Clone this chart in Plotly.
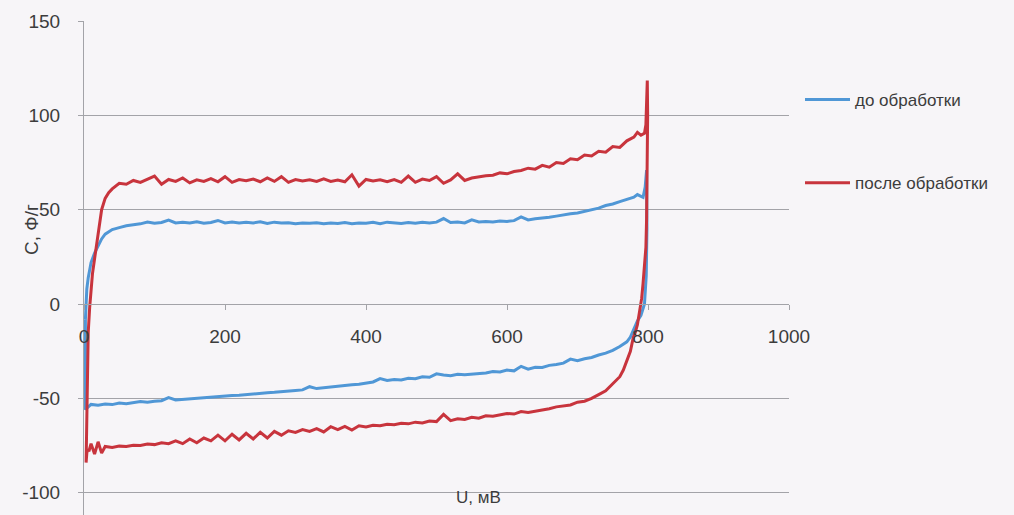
import plotly.graph_objects as go

# ---- data ----
# до обработки (before treatment): forward scan 0 -> 800 mV, then reverse 800 -> 0 mV
u_before_fwd = [2, 3, 4, 6, 8, 10, 15, 20, 25, 30, 40, 50, 60, 70, 80, 90, 100, 110, 120, 130,
                140, 150, 160, 170, 180, 190, 200, 210, 220, 230, 240, 250, 260, 270, 280, 290,
                300, 310, 320, 330, 340, 350, 360, 370, 380, 390, 400, 410, 420, 430, 440, 450,
                460, 470, 480, 490, 500, 510, 520, 530, 540, 550, 560, 570, 580, 590, 600, 610,
                620, 630, 640, 650, 660, 670, 680, 690, 700, 710, 720, 730, 740, 750, 760, 770,
                780, 785, 790, 793, 796, 798]
c_before_fwd = [-8, 2, 8, 14, 19, 22, 27, 31, 34.5, 37, 39.5, 40.5, 41.5, 42, 42.5, 43.5, 42.8,
                43.2, 44.5, 43, 43.4, 43, 43.6, 42.8, 43.2, 44.3, 43, 43.5, 42.9, 43.3, 43, 43.6,
                42.7, 43.4, 43, 43.1, 42.6, 43, 42.8, 43.1, 42.5, 43, 42.7, 43.2, 42.6, 43, 42.8,
                43.3, 42.6, 43.4, 43, 42.7, 43.2, 42.8, 43.3, 42.9, 43.4, 45.3, 43.2, 43.5, 43,
                44.6, 43.5, 43.8, 43.5, 44, 43.8, 44.2, 46.2, 44.6, 45.2, 45.5, 46, 46.6, 47, 47.8,
                48.3, 49, 50, 50.8, 52.2, 53, 54.3, 55.4, 56.6, 58, 57.2, 56.6, 62, 71]
u_before_rev = [798.5, 797.5, 795, 790, 785, 780, 775, 770, 760, 750, 740, 730, 720, 710, 700, 690,
                680, 670, 660, 650, 640, 630, 620, 610, 600, 590, 580, 570, 560, 550, 540, 530,
                520, 510, 500, 490, 480, 470, 460, 450, 440, 430, 420, 410, 400, 390, 380, 370,
                360, 350, 340, 330, 320, 310, 300, 290, 280, 270, 260, 250, 240, 230, 220, 210,
                200, 190, 180, 170, 160, 150, 140, 130, 120, 110, 100, 90, 80, 70, 60, 50, 40, 30,
                20, 10, 5, 3, 2, 2]
c_before_rev = [40, 15, 0, -6, -9, -13.5, -17.5, -20, -22.5, -24.5, -26, -27, -28.3, -29, -30,
                -29.2, -31.3, -32, -32.5, -33.6, -33.5, -34.5, -33, -35.4, -35, -36, -35.8, -36.5,
                -36.8, -37, -37.5, -37.2, -38, -37.6, -37, -38.8, -38.5, -39.6, -39.3, -40.2, -40,
                -40.5, -39.5, -41.3, -42, -42.5, -42.8, -43.2, -43.8, -44, -44.4, -44.8, -43.8,
                -45.5, -45.8, -46.2, -46.5, -46.8, -47, -47.4, -47.6, -48, -48.3, -48.5, -48.8,
                -49, -49.5, -49.8, -50, -50.3, -50.5, -50.8, -49.6, -51.2, -51.5, -52, -51.6,
                -52.3, -52.8, -52.4, -53.3, -53, -53.6, -53.2, -54.5, -55.5, -56, -8]

# после обработки (after treatment)
u_after_fwd = [3, 4, 5, 6, 8, 10, 12, 15, 20, 25, 30, 35, 40, 45, 50, 60, 70, 80, 90, 100, 110, 120,
               130, 140, 150, 160, 170, 180, 190, 200, 210, 220, 230, 240, 250, 260, 270, 280, 290,
               300, 310, 320, 330, 340, 350, 360, 370, 380, 390, 400, 410, 420, 430, 440, 450, 460,
               470, 480, 490, 500, 510, 520, 530, 540, 550, 560, 570, 580, 590, 600, 610, 620, 630,
               640, 650, 660, 670, 680, 690, 700, 710, 720, 730, 740, 750, 760, 770, 780, 785, 790,
               795, 797, 798, 799]
c_after_fwd = [-84, -60, -35, -15, -2, 8, 16, 24, 38, 50, 56, 59, 61, 62.5, 64, 63.5, 65.5, 64.5, 66,
               67.8, 63.5, 66, 65, 66.8, 64.2, 65.8, 65, 66.5, 64.8, 67.5, 64.5, 66, 65.3, 66.2,
               64.8, 66.8, 65, 67.5, 64.5, 66, 65.2, 65.8, 65, 66.3, 65, 65.7, 64.8, 68.5, 62.5, 66,
               65.2, 65.8, 64.8, 66, 64.5, 67.8, 64.5, 66.2, 65.5, 67.5, 64, 65.8, 69, 65.5, 66.8,
               67.5, 68, 68.3, 69.5, 69, 70.2, 70.8, 72, 71.5, 73.5, 72.5, 75, 74.5, 77, 76.5, 79,
               78.5, 81, 80.5, 83.5, 83, 86.5, 88.5, 91, 89.5, 90.5, 95, 105, 118.5]
u_after_rev = [799.5, 799, 798, 797, 795, 793, 791, 789, 787, 785, 782, 779, 775, 770, 765, 760, 750,
               740, 730, 720, 710, 700, 690, 680, 670, 660, 650, 640, 630, 620, 610, 600, 590, 580,
               570, 560, 550, 540, 530, 520, 510, 500, 490, 480, 470, 460, 450, 440, 430, 420, 410,
               400, 390, 380, 370, 360, 350, 340, 330, 320, 310, 300, 290, 280, 270, 260, 250, 240,
               230, 220, 210, 200, 190, 180, 170, 160, 150, 140, 130, 120, 110, 100, 90, 80, 70, 60,
               50, 40, 30, 25, 20, 15, 10, 7, 5, 4, 3]
c_after_rev = [100, 70, 45, 30, 18, 11, 3, -2, -7, -11, -15, -18, -25, -30, -35, -38.5, -42.5, -46,
               -48, -50, -51.5, -52, -53.5, -53.8, -54.5, -55.5, -56.2, -56.5, -57.5, -57, -58.3,
               -58, -58.8, -59.5, -59.2, -60.5, -60, -61.2, -60.8, -61.8, -58.5, -62.3, -62, -63,
               -62.6, -63.5, -63.2, -64, -63.7, -64.5, -64.3, -65.2, -64.5, -66.8, -64.8, -66.5,
               -65, -67.8, -66, -67.5, -66.5, -68, -67.2, -69.5, -67.5, -71, -68, -71.5, -68.5,
               -72, -69, -72.5, -69.5, -72.5, -71, -73.5, -71.5, -74, -72.5, -74, -73.5, -74.5,
               -74.2, -75, -74.8, -75.5, -75.3, -76, -75.5, -79, -73, -79.5, -74, -78, -77, -79,
               -84]

x_ticks = [0, 200, 400, 600, 800, 1000]
x_tick_labels = ["0", "200", "400", "600", "800", "1000"]
y_ticks = [-100, -50, 0, 50, 100, 150]
y_tick_labels = ["-100", "-50", "0", "50", "100", "150"]

names = ["до обработки", "после обработки"]
colors = ["#5097d6", "#c8343d"]

# ---- figure ----
W, H = 1014, 515
L, R, T, B = 84, 225, 21, 0
y_range = [-111.8, 150]
x_range = [0, 1000]
x_axis_pos = (0 - y_range[0]) / (y_range[1] - y_range[0])

fig = go.Figure()
fig.add_trace(go.Scatter(x=u_before_fwd + u_before_rev, y=c_before_fwd + c_before_rev,
                         mode="lines", name=names[0], legendgroup="a",
                         line=dict(color=colors[0], width=3)))
fig.add_trace(go.Scatter(x=u_after_fwd + u_after_rev, y=c_after_fwd + c_after_rev,
                         mode="lines", name=names[1], legendgroup="b",
                         line=dict(color=colors[1], width=3)))

bg = "#f7f5f8"
grid = "#a3a3a8"
txt = "#3c3c3c"
font_family = "Liberation Sans, Arial, sans-serif"

fig.update_layout(
    width=W, height=H,
    margin=dict(l=L, r=R, t=T, b=B, pad=0),
    paper_bgcolor=bg, plot_bgcolor=bg,
    font=dict(family=font_family, size=19, color=txt),
    showlegend=True,
    legend=dict(x=(800 - L) / (W - L - R), xanchor="left",
                y=1 - (82 - T) / (H - T - B), yanchor="top",
                bgcolor="rgba(0,0,0,0)", font=dict(size=17, color=txt),
                tracegroupgap=58, itemwidth=45),
    xaxis=dict(range=x_range, tickvals=x_ticks, ticktext=x_tick_labels,
               showgrid=False, zeroline=False,
               showline=True, linecolor=grid, linewidth=1,
               ticks="outside", ticklen=5, tickcolor=grid,
               anchor="free", position=x_axis_pos, ticklabelstandoff=10,
               tickfont=dict(size=19, color=txt)),
    yaxis=dict(range=y_range, tickvals=y_ticks, ticktext=y_tick_labels,
               showgrid=True, gridcolor=grid, gridwidth=1,
               zeroline=False, showline=True, linecolor=grid, linewidth=1,
               ticks="outside", ticklen=5, tickcolor=grid, ticklabelstandoff=14,
               tickfont=dict(size=19, color=txt)),
    annotations=[
        dict(text="U, мВ", xref="paper", yref="paper",
             x=(478 - L) / (W - L - R), y=(H - 497) / (H - T - B),
             xanchor="center", yanchor="middle",
             showarrow=False, font=dict(size=17, color=txt)),
        dict(text="С, Ф/г", xref="paper", yref="paper",
             x=(31 - L) / (W - L - R), y=(H - 230) / (H - T - B),
             xanchor="center", yanchor="middle",
             textangle=-90, showarrow=False, font=dict(size=19, color=txt)),
    ],
)

fig.write_html("out.html", config={"displayModeBar": False},
               post_script="document.body.style.margin='0';document.body.style.background='%s';" % bg)
